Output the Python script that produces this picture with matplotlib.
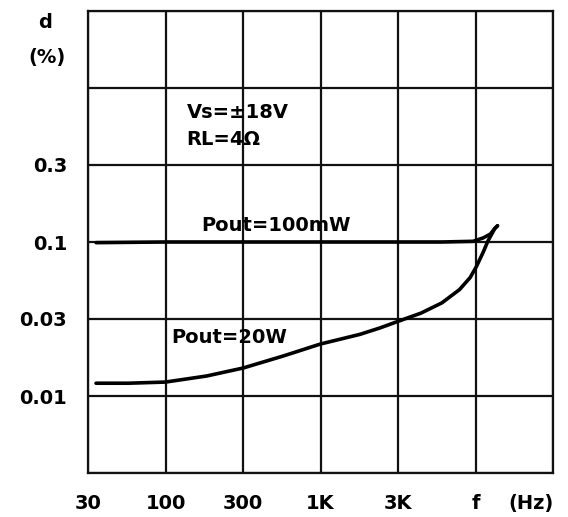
import numpy as np
import matplotlib.pyplot as plt

# grid knots: each cell is one 1-3-10 step, drawn equally wide like the datasheet
f_knots = [30, 100, 300, 1000, 3000, 10000, 30000]
d_knots = [0.003, 0.01, 0.03, 0.1, 0.3, 1, 3]
f_labels = ['30', '100', '300', '1K', '3K', 'f', '']
d_labels = ['', '0.01', '0.03', '0.1', '0.3', '', '']

# distortion curves
f_100mw = [34, 100, 1000, 3000, 5930, 9640, 11150, 12350, 13120, 13660]
d_100mw = [0.099, 0.1, 0.1, 0.1, 0.1, 0.101, 0.106, 0.112, 0.121, 0.126]

f_20w = [34, 56, 100, 179, 300, 561, 1000, 1750, 2320, 3000, 4290, 5930, 7800,
         9210, 10140, 11150, 11930, 13120, 13660]
d_20w = [0.0120, 0.0120, 0.0122, 0.0133, 0.0149, 0.0177, 0.0210, 0.0241, 0.0264,
         0.0290, 0.0329, 0.0386, 0.0475, 0.0574, 0.0683, 0.0852, 0.1015, 0.121, 0.126]


def make_scale(knots):
    lk = np.log10(knots)
    idx = np.arange(len(knots))

    def fwd(v):
        v = np.clip(np.asarray(v, dtype=float), 1e-12, None)
        return np.interp(np.log10(v), lk, idx)

    def inv(u):
        return 10 ** np.interp(u, idx, lk)
    return fwd, inv


fig = plt.figure(figsize=(5.68, 5.17), dpi=100)
ax = fig.add_axes([88/568, 1-473/517, (553-88)/568, (473-11)/517])

ax.set_xscale('function', functions=make_scale(f_knots))
ax.set_yscale('function', functions=make_scale(d_knots))
ax.set_xlim(f_knots[0], f_knots[-1])
ax.set_ylim(d_knots[0], d_knots[-1])

font = dict(family='DejaVu Sans', weight='bold')
fs = 14

ax.set_xticks(f_knots)
ax.set_xticklabels(f_labels, fontsize=fs, **font)
ax.set_yticks(d_knots)
ax.set_yticklabels(d_labels, fontsize=fs, **font)
ax.xaxis.set_minor_locator(plt.NullLocator())
ax.yaxis.set_minor_locator(plt.NullLocator())
ax.tick_params(axis='x', length=0, pad=15)
ax.tick_params(axis='y', length=0, pad=15)
ax.grid(True, color='#111111', lw=1.6)
for s in ax.spines.values():
    s.set_linewidth(1.6)
    s.set_color('#111111')

ax.plot(f_100mw, d_100mw, color='black', lw=2.6, solid_capstyle='round')
ax.plot(f_20w, d_20w, color='black', lw=2.6, solid_capstyle='round')

ax.text(135, 0.68, 'Vs=±18V', fontsize=fs, va='center', ha='left', **font)
ax.text(135, 0.448, 'RL=4Ω', fontsize=fs, va='center', ha='left', **font)
ax.text(167, 0.126, 'Pout=100mW', fontsize=fs, va='center', ha='left', **font)
ax.text(109, 0.0232, 'Pout=20W', fontsize=fs, va='center', ha='left', **font)

ax.text(22000, -0.066, '(Hz)', transform=ax.get_xaxis_transform(),
        fontsize=fs, va='center', ha='center', **font)

fig.text(45/568, 1-22/517, 'd', fontsize=fs, ha='center', va='center', **font)
fig.text(47/568, 1-57/517, '(%)', fontsize=fs, ha='center', va='center', **font)

fig.savefig('out.png', dpi=100)
